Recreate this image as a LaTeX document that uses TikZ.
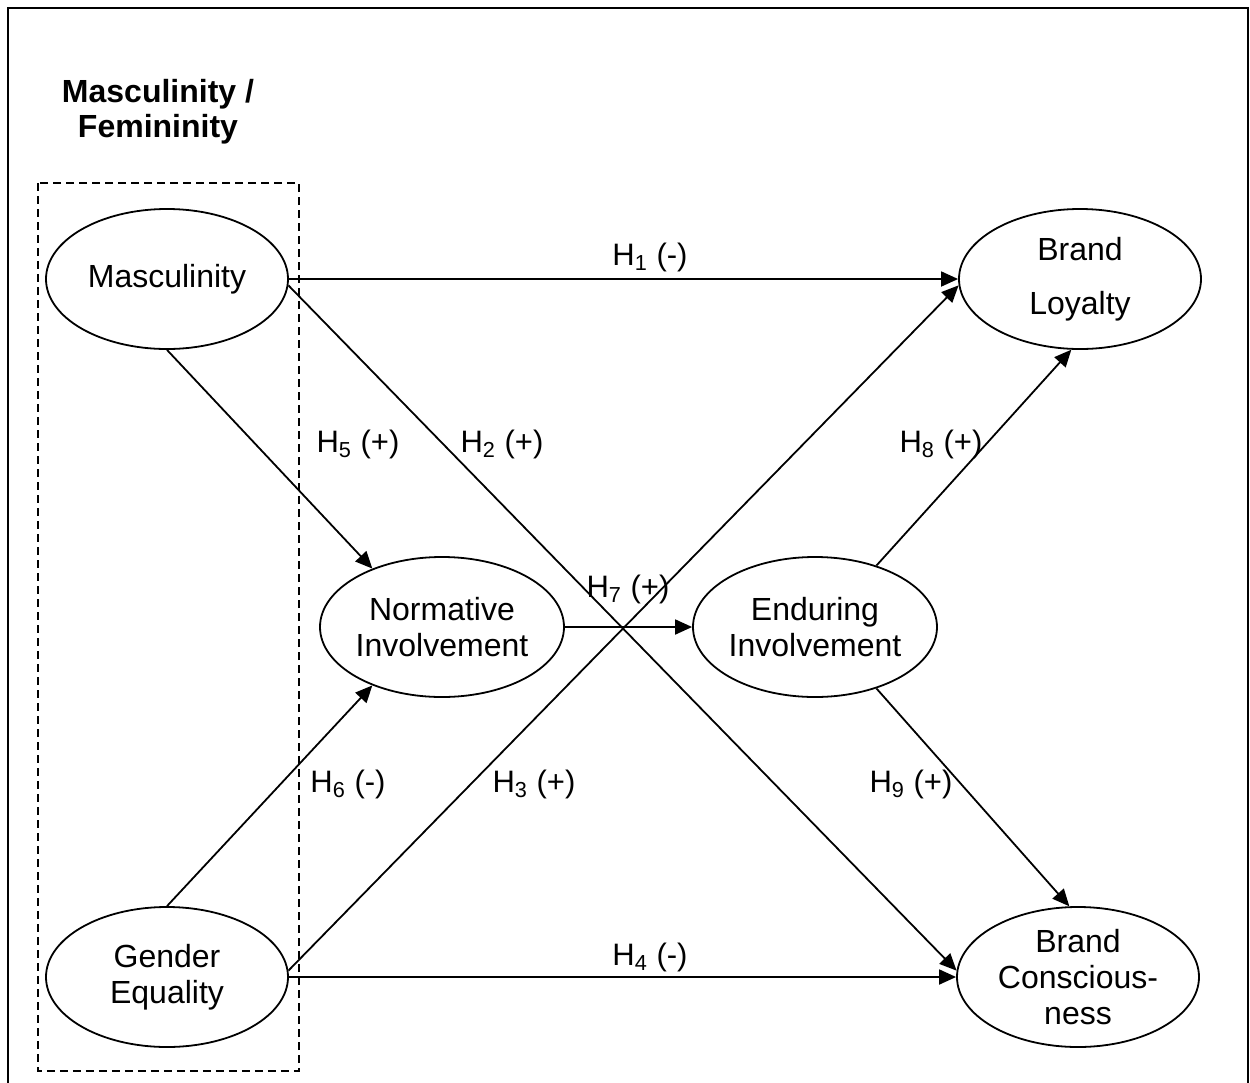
\documentclass[tikz,border=0pt]{standalone}
\usepackage{fontspec}
\setmainfont{Liberation Sans}
\usetikzlibrary{arrows.meta,shapes.geometric}
\tikzset{
  construct/.style={
    ellipse,
    draw,
    line width=0.9pt,
    minimum width=121pt,
    minimum height=70pt,
    inner sep=0pt,
    align=center,
    font=\fontsize{16}{18}\selectfont
  },
  hyp/.style={
    anchor=base,
    inner sep=0pt,
    font=\fontsize{15.5}{18}\selectfont
  },
  groupbox/.style={
    draw,
    line width=0.9pt,
    dash pattern=on 4pt off 2.5pt
  },
  arrow/.style={
    -{Triangle[length=8.5pt,width=7.5pt]},
    line width=0.9pt
  }
}

\begin{document}
\begin{tikzpicture}[x=0.5pt,y=-0.5pt]
\useasboundingbox (0,0) rectangle (1250,1083);
\draw[line width=1pt] (8,1100) -- (8,8) -- (1248,8) -- (1248,1100);
% group of the two dimensions
\draw[groupbox] (38,183) rectangle (299,1071);
\node[align=center,inner sep=0pt,font=\fontsize{16}{17.5}\selectfont\bfseries] (title) at (158,112) {Masculinity /\\Femininity};
\node[construct] (masc) at (167,279) {Masculinity};
\node[construct] (gender) at (167,977) {Gender\\Equality};
\node[construct] (norm) at (442,627) {Normative\\Involvement};
\node[construct] (endur) at (815,627) {Enduring\\Involvement};
\node[construct] (loyal) at (1080,279) {Brand\\[9pt]Loyalty};
\node[construct] (conc) at (1078,977) {Brand\\Conscious-\\ness};
\draw[arrow] (masc.east) -- (loyal.west);
\draw[arrow] (masc.-3) -- (conc.177);
\draw[arrow] (gender.3) -- (loyal.183);
\draw[arrow] (gender.east) -- (conc.west);
\draw[arrow] (masc.south) -- (norm.140);
\draw[arrow] (gender.north) -- (norm.220);
\draw[arrow] (norm.east) -- (endur.west);
\draw[arrow] (endur.45) -- (loyal.263);
\draw[arrow] (endur.-45) -- (conc.97);
% hypotheses
\node[hyp] (h1) at (650,265) {H\textsubscript{1} (-)};
\node[hyp] (h2) at (502,452) {H\textsubscript{2} (+)};
\node[hyp] (h3) at (534,792) {H\textsubscript{3} (+)};
\node[hyp] (h4) at (650,965) {H\textsubscript{4} (-)};
\node[hyp] (h5) at (358,452) {H\textsubscript{5} (+)};
\node[hyp] (h6) at (348,792) {H\textsubscript{6} (-)};
\node[hyp] (h7) at (628,597) {H\textsubscript{7} (+)};
\node[hyp] (h8) at (941,452) {H\textsubscript{8} (+)};
\node[hyp] (h9) at (911,792) {H\textsubscript{9} (+)};
\end{tikzpicture}
\end{document}
